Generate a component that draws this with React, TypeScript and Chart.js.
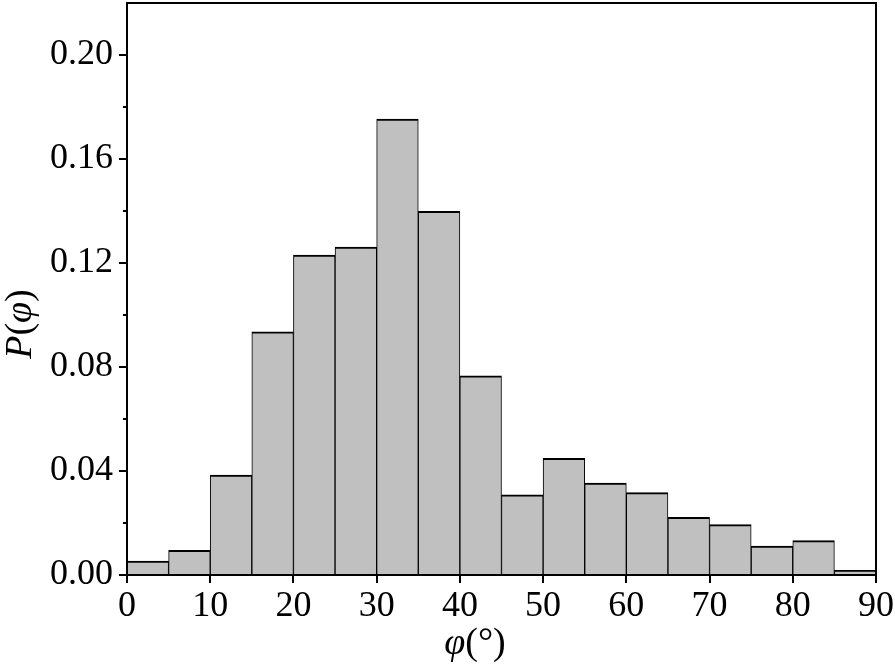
import React, { useEffect, useRef } from "react";
import { Chart, registerables } from "chart.js";

Chart.register(...registerables);

const binStarts = [0, 5, 10, 15, 20, 25, 30, 35, 40, 45, 50, 55, 60, 65, 70, 75, 80, 85];
const binWidth = 5;
const probabilities = [
  0.0054, 0.0095, 0.0384, 0.0935, 0.123, 0.1261, 0.1754, 0.1399, 0.0766,
  0.0308, 0.0449, 0.0354, 0.0317, 0.0222, 0.0194, 0.0111, 0.0132, 0.0018,
];
const xTicks = [0, 10, 20, 30, 40, 50, 60, 70, 80, 90];
const yTicks = [0.0, 0.04, 0.08, 0.12, 0.16, 0.2];
const yMinorTicks = [0.02, 0.06, 0.1, 0.14, 0.18];
const xTitleParts = [
  { text: "φ", italic: true },
  { text: "(°)", italic: false },
];
const yTitleParts = [
  { text: "P", italic: true },
  { text: "(", italic: false },
  { text: "φ", italic: true },
  { text: ")", italic: false },
];

const FONT_FAMILY = '"Liberation Serif", "Times New Roman", serif';
const TITLE_SIZE = 38;

function drawParts(ctx: CanvasRenderingContext2D, parts: { text: string; italic: boolean }[], cx: number) {
  const fonts = parts.map((p) => `${p.italic ? "italic " : ""}${TITLE_SIZE}px ${FONT_FAMILY}`);
  let total = 0;
  const widths = parts.map((p, i) => {
    ctx.font = fonts[i];
    const w = ctx.measureText(p.text).width;
    total += w;
    return w;
  });
  let x = cx - total / 2;
  parts.forEach((p, i) => {
    ctx.font = fonts[i];
    ctx.fillText(p.text, x, 0);
    x += widths[i];
  });
}

const framePlugin = {
  id: "frame",
  afterDraw(chart: any) {
    const { ctx, chartArea } = chart;
    const yScale = chart.scales.y;
    ctx.save();
    ctx.strokeStyle = "#000";
    ctx.lineWidth = 2;
    ctx.strokeRect(chartArea.left, chartArea.top, chartArea.right - chartArea.left, chartArea.bottom - chartArea.top);
    ctx.beginPath();
    yMinorTicks.forEach((v) => {
      const py = Math.round(yScale.getPixelForValue(v));
      ctx.moveTo(chartArea.left, py);
      ctx.lineTo(chartArea.left - 4, py);
    });
    ctx.stroke();
    ctx.fillStyle = "#000";
    ctx.textBaseline = "alphabetic";
    ctx.textAlign = "left";
    ctx.save();
    ctx.translate(475, 654);
    drawParts(ctx, xTitleParts, 0);
    ctx.restore();
    ctx.save();
    ctx.translate(31, (chartArea.top + chartArea.bottom) / 2 + 35);
    ctx.rotate(-Math.PI / 2);
    drawParts(ctx, yTitleParts, 0);
    ctx.restore();
    ctx.restore();
  },
};

export default function App() {
  const canvasRef = useRef<HTMLCanvasElement | null>(null);

  useEffect(() => {
    if (!canvasRef.current) return;
    const data = binStarts.map((s, i) => ({ x: s + binWidth / 2, y: probabilities[i] }));
    const chart = new Chart(canvasRef.current, {
      type: "bar",
      data: {
        datasets: [
          {
            data: data as any,
            backgroundColor: "#c0c0c0",
            borderColor: "#000",
            borderWidth: { top: 2, left: 1, right: 1, bottom: 0 } as any,
            borderSkipped: false,
            barPercentage: 1,
            categoryPercentage: 1,
          },
        ],
      },
      options: {
        animation: false,
        responsive: false,
        maintainAspectRatio: false,
        layout: { padding: { top: 3, right: 19, left: 0, bottom: 0 } },
        plugins: { legend: { display: false }, tooltip: { enabled: false } },
        scales: {
          x: {
            type: "linear",
            min: 0,
            max: 90,
            offset: false,
            afterBuildTicks: (axis: any) => {
              axis.ticks = xTicks.map((v) => ({ value: v }));
            },
            afterFit: (scale: any) => {
              scale.height = 90;
              scale.paddingLeft = 0;
              scale.paddingRight = 0;
            },
            ticks: {
              color: "#000",
              font: { family: FONT_FAMILY, size: 36 },
              padding: 2,
              maxRotation: 0,
              autoSkip: false,
            },
            grid: {
              offset: false,
              drawOnChartArea: false,
              drawTicks: true,
              tickLength: 8,
              color: "#000",
              lineWidth: 2,
            },
            border: { display: true, color: "#000", width: 2 },
          },
          y: {
            type: "linear",
            min: 0,
            max: 0.22,
            afterBuildTicks: (axis: any) => {
              axis.ticks = yTicks.map((v) => ({ value: v }));
            },
            afterFit: (scale: any) => {
              scale.width = 127;
              scale.paddingTop = 0;
              scale.paddingBottom = 0;
            },
            ticks: {
              color: "#000",
              font: { family: FONT_FAMILY, size: 36 },
              padding: 6,
              callback: (v: any) => Number(v).toFixed(2),
            },
            grid: {
              drawOnChartArea: false,
              drawTicks: true,
              tickLength: 8,
              color: "#000",
              lineWidth: 2,
            },
            border: { display: true, color: "#000", width: 2 },
          },
        },
      },
      plugins: [framePlugin],
    });
    return () => chart.destroy();
  }, []);

  return (
    <div style={{ position: "absolute", left: 0, top: 0, width: 895, height: 665, background: "#fff" }}>
      <canvas ref={canvasRef} width={895} height={665} style={{ width: 895, height: 665, display: "block" }} />
    </div>
  );
}
